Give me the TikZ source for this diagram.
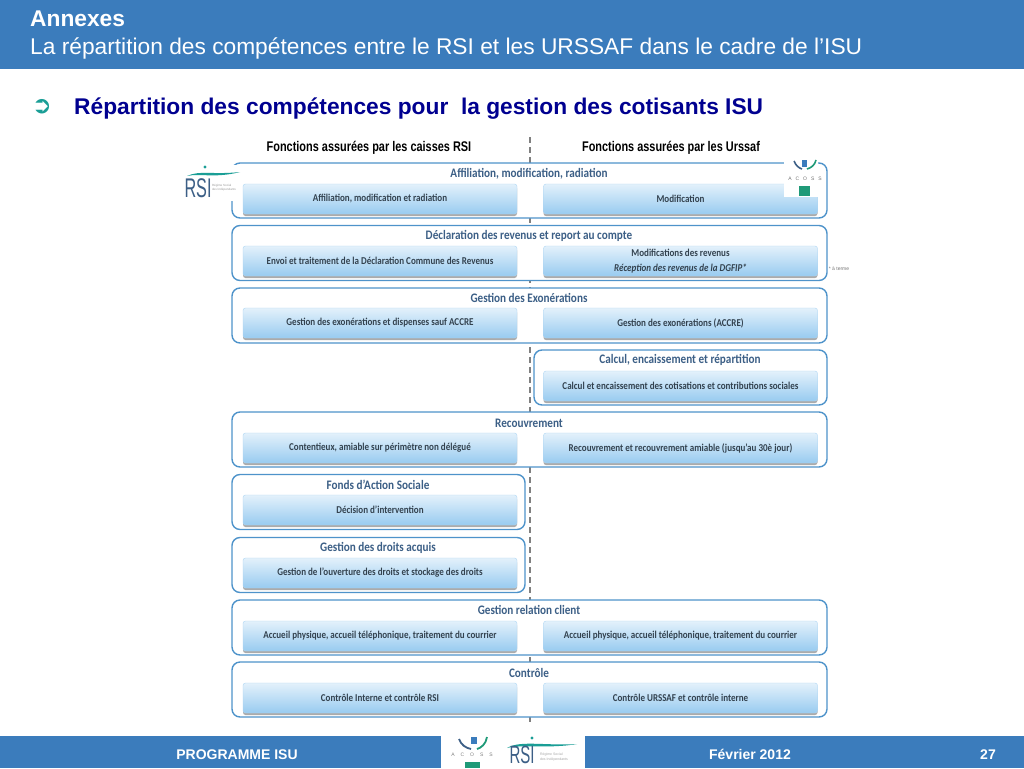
\documentclass[tikz,border=0pt]{standalone}
\usepackage{fontspec}
\setmainfont{Liberation Sans}
\newfontfamily\boitefont[FakeStretch=0.86]{Carlito}
\newfontfamily\etroitefont[FakeStretch=0.78]{Liberation Sans}
\newfontfamily\rsifont[FakeStretch=0.6]{Liberation Sans}
\newfontfamily\symbfont{DejaVu Sans}
\usetikzlibrary{shadows}
\definecolor{bandeau}{HTML}{3B7CBC}
\definecolor{trait}{HTML}{4E93CA}
\definecolor{titre}{HTML}{3C5F86}
\definecolor{texte}{HTML}{33424F}
\definecolor{marine}{HTML}{000090}
\definecolor{sarcelle}{HTML}{1A9E96}
\definecolor{clair}{HTML}{E3F1FB}
\definecolor{fonce}{HTML}{98CBF0}
\definecolor{vert}{HTML}{1F9A78}

\begin{document}
\begin{tikzpicture}[x=1pt,y=-1pt]
\tikzstyle{cadre large}=[draw=trait,line width=1.4pt,fill=white,rounded corners=8pt,inner sep=0pt,minimum width=595pt,minimum height=55pt]
\tikzstyle{cadre court}=[cadre large,minimum width=293pt]
\tikzstyle{boite}=[rounded corners=2.5pt,top color=clair,bottom color=fonce,draw=fonce!80!white,line width=.4pt,inner sep=0pt,minimum width=274pt,minimum height=30pt,align=center,text=texte,font=\boitefont\bfseries\fontsize{10.5}{14}\selectfont,drop shadow={shadow xshift=0pt,shadow yshift=-2pt,fill=black!60,opacity=.55}]
\tikzstyle{titre cadre}=[text=titre,font=\boitefont\bfseries\fontsize{13}{15}\selectfont,inner sep=0pt]
\tikzstyle{entete}=[text=black,font=\etroitefont\bfseries\fontsize{14}{16}\selectfont,inner sep=0pt]
\tikzstyle{bas}=[text=white,anchor=base,font=\bfseries\fontsize{14}{15}\selectfont,inner sep=0pt]
\tikzstyle{bandeau plein}=[fill=bandeau,draw=none]
\tikzstyle{logo}=[fill=white,draw=none]

\useasboundingbox (0,0) rectangle (1024,768);

% bandeaux
\fill[bandeau plein] (0,0) rectangle (1024,69);
\fill[bandeau plein] (0,736) rectangle (1024,768);
\node[text=white,anchor=base west,inner sep=0pt,font=\bfseries\fontsize{22.75}{24}\selectfont] (annexes) at (30,27) {Annexes};
\node[text=white,anchor=base west,inner sep=0pt,font=\fontsize{22.75}{24}\selectfont] (soustitre) at (30,55) {La répartition des compétences entre le RSI et les URSSAF dans le cadre de l’ISU};
\node[text=sarcelle,inner sep=0pt,font=\symbfont\bfseries\fontsize{24}{26}\selectfont] (puce) at (42,107) {➲};
\node[text=marine,anchor=base west,inner sep=0pt,font=\bfseries\fontsize{22.75}{24}\selectfont] (rubrique) at (74,114) {Répartition des compétences pour\ \ la gestion des cotisants ISU};

% separation
\coordinate (sepHaut) at (530,137);
\coordinate (sepBas) at (530,722);
\draw[black!50,line width=1.1pt,dash pattern=on 6pt off 4pt] (sepHaut) -- (sepBas);

\node[entete] (fctRSI) at (369,148) {Fonctions assurées par les caisses RSI};
\node[entete] (fctUrssaf) at (671,148) {Fonctions assurées par les Urssaf};

% cadres
\node[cadre large] (affil) at (529.5,190.5) {};
\node[cadre large] (declar) at (529.5,253) {};
\node[cadre large] (exo) at (529.5,315.5) {};
\node[cadre court] (calcul) at (680.5,377.5) {};
\node[cadre large] (recouv) at (529.5,439.5) {};
\node[cadre court] (fonds) at (378.5,502) {};
\node[cadre court] (droits) at (378.5,565) {};
\node[cadre large] (relation) at (529.5,627.5) {};
\node[cadre large] (controle) at (529.5,689.5) {};

\node[titre cadre] (tAffil) at (529,174) {Affiliation, modification, radiation};
\node[titre cadre] (tDeclar) at (529,236) {Déclaration des revenus et report au compte};
\node[titre cadre] (tExo) at (529,298) {Gestion des Exonérations};
\node[titre cadre] (tCalcul) at (680,360) {Calcul, encaissement et répartition};
\node[titre cadre] (tRecouv) at (529,423) {Recouvrement};
\node[titre cadre] (tFonds) at (378,485) {Fonds d’Action Sociale};
\node[titre cadre] (tDroits) at (378,548) {Gestion des droits acquis};
\node[titre cadre] (tRelation) at (529,610) {Gestion relation client};
\node[titre cadre] (tControle) at (529,673) {Contrôle};

% boites
\node[boite] (b1g) at (380,199) {Affiliation, modification et radiation};
\node[boite] (b1d) at (680.5,199) {Modification};
\node[boite] (b2g) at (380,261) {Envoi et traitement de la Déclaration Commune des Revenus};
\node[boite] (b2d) at (680.5,261) {Modifications des revenus\\[.5pt]\textit{Réception des revenus de la DGFIP*}};
\node[boite] (b3g) at (380,323) {Gestion des exonérations et dispenses sauf ACCRE};
\node[boite] (b3d) at (680.5,323) {Gestion des exonérations (ACCRE)};
\node[boite] (b4d) at (680.5,386) {Calcul et encaissement des cotisations et contributions sociales};
\node[boite] (b5g) at (380,448) {Contentieux, amiable sur périmètre non délégué};
\node[boite] (b5d) at (680.5,448) {Recouvrement et recouvrement amiable (jusqu’au 30è jour)};
\node[boite] (b6g) at (380,510) {Décision d’intervention};
\node[boite] (b7g) at (380,573) {Gestion de l’ouverture des droits et stockage des droits};
\node[boite] (b8g) at (380,636) {Accueil physique, accueil téléphonique, traitement du courrier};
\node[boite] (b8d) at (680.5,636) {Accueil physique, accueil téléphonique, traitement du courrier};
\node[boite] (b9g) at (380,698) {Contrôle Interne et contrôle RSI};
\node[boite] (b9d) at (680.5,698) {Contrôle URSSAF et contrôle interne};

\node[text=black!55,inner sep=0pt,font=\fontsize{5}{6}\selectfont] (aterme) at (839,269) {* à terme};

% logo RSI haut
\fill[logo] (184,164.5) rectangle (241,183);
\fill[logo] (184,183) rectangle (234,201);
\fill[sarcelle] (205,167) circle (1.6);
\fill[sarcelle] (187,176) .. controls (200,170) and (212,175) .. (240,172) .. controls (215,178.5) and (200,173) .. (187,176);
\node[text=titre,inner sep=0pt,font=\rsifont\fontsize{27}{29}\selectfont] (rsiHaut) at (198,188) {RSI};
\node[text=black!40,inner sep=0pt,align=left,font=\fontsize{3}{4}\selectfont] (rsiPetit) at (224,188) {Régime Social\\des Indépendants};

% logo ACOSS haut
\fill[logo] (784,155) rectangle (818,197);
\fill[bandeau] (802,160) rectangle (807,167);
\draw[titre,line width=1.6pt] (794,161) .. controls (796,166) and (799,168) .. (802,169);
\draw[vert,line width=1.6pt] (816,160) .. controls (815,165) and (811,168) .. (807,169);
\node[text=black!55,inner sep=0pt,font=\fontsize{5}{6}\selectfont] (acossHaut) at (805,179) {A\hspace{4pt}C\hspace{4pt}O\hspace{4pt}S\hspace{4pt}S};
\fill[vert] (799,186) rectangle (810,196);

% pied de page
\fill[logo] (441,736) rectangle (585,768);
\fill[bandeau] (471,737) rectangle (477,744);
\draw[titre,line width=1.8pt] (459,739) .. controls (461,745) and (466,748) .. (471,749);
\draw[vert,line width=1.8pt] (487,737) .. controls (486,744) and (481,748) .. (477,749);
\node[text=black!50,inner sep=0pt,font=\fontsize{5}{6}\selectfont] (acossBas) at (472,755) {A\hspace{6pt}C\hspace{6pt}O\hspace{6pt}S\hspace{6pt}S};
\fill[vert] (465,762) rectangle (480,768);
\fill[sarcelle] (532,738) circle (1.6);
\fill[sarcelle] (507,748) .. controls (520,740) and (545,746) .. (577,744) .. controls (548,749) and (522,744) .. (507,748);
\node[text=titre,inner sep=0pt,font=\rsifont\fontsize{25}{27}\selectfont] (rsiBas) at (522,755) {RSI};
\node[text=black!35,inner sep=0pt,align=left,font=\fontsize{3.5}{4.5}\selectfont] (rsiBasPetit) at (554,757) {Régime Social\\des Indépendants};

\node[bas] (programme) at (237,759) {PROGRAMME ISU};
\node[bas] (date) at (750,759) {Février 2012};
\node[bas] (page) at (988,759) {27};
\end{tikzpicture}
\end{document}
